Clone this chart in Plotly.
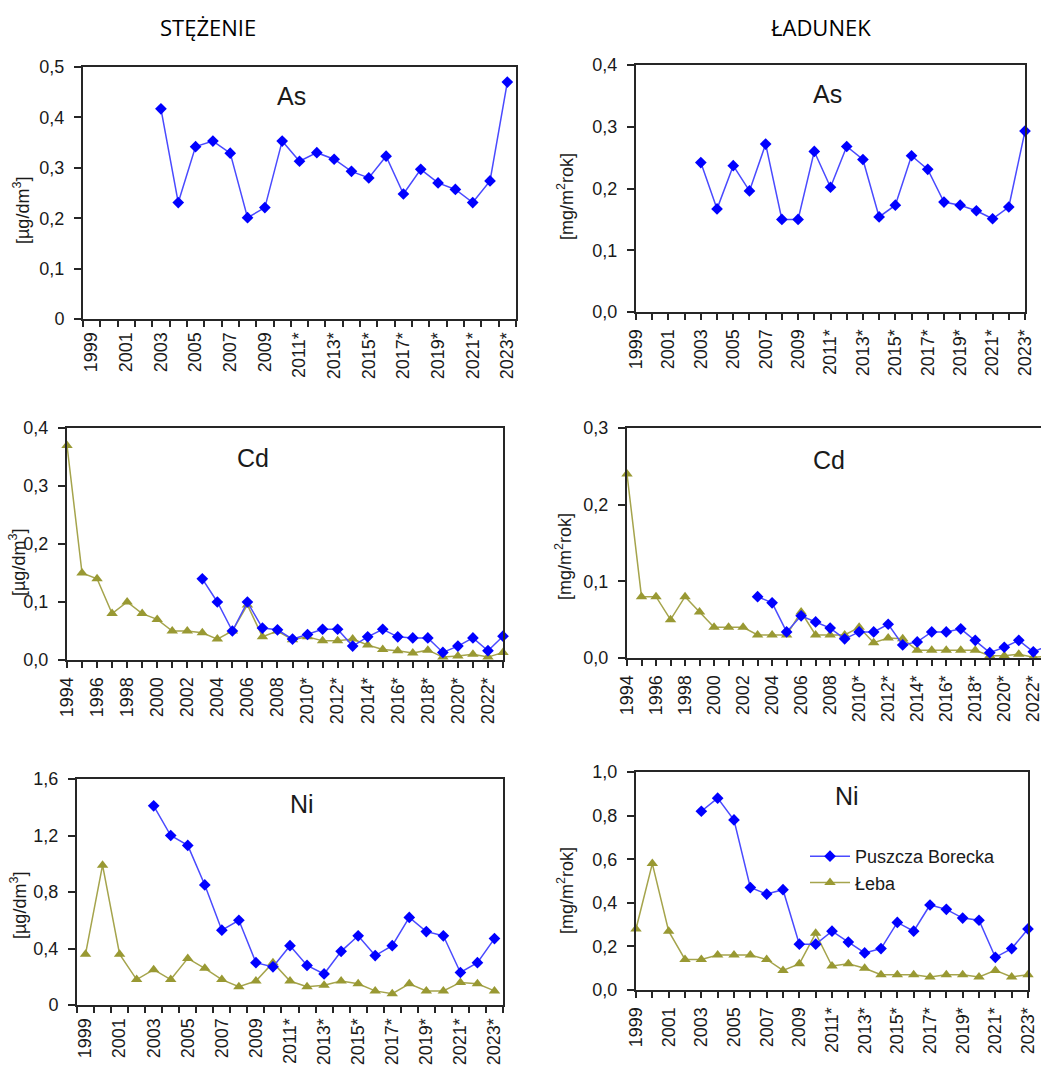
import plotly.graph_objects as go

W, H = 1041, 1066

# ---------------------------------------------------------------- categories
YEARS_1994 = ["1994", "1995", "1996", "1997", "1998", "1999", "2000", "2001",
              "2002", "2003", "2004", "2005", "2006", "2007", "2008", "2009",
              "2010*", "2011*", "2012*", "2013*", "2014*", "2015*", "2016*",
              "2017*", "2018*", "2019*", "2020*", "2021*", "2022*", "2023*"]
YEARS_1999 = YEARS_1994[5:]
YEARS_2003 = YEARS_1994[9:]

# ---------------------------------------------------------------- As
as_conc_borecka = [0.417, 0.231, 0.342, 0.353, 0.329, 0.201, 0.221, 0.353,
                   0.313, 0.330, 0.317, 0.293, 0.280, 0.323, 0.248, 0.297,
                   0.270, 0.257, 0.231, 0.274, 0.470]
as_load_borecka = [0.242, 0.167, 0.237, 0.196, 0.272, 0.150, 0.150, 0.260,
                   0.202, 0.268, 0.247, 0.154, 0.173, 0.253, 0.231, 0.178,
                   0.173, 0.164, 0.151, 0.170, 0.293]

# ---------------------------------------------------------------- Cd
cd_conc_leba = [0.370, 0.150, 0.140, 0.080, 0.100, 0.080, 0.070, 0.050,
                0.050, 0.047, 0.036, 0.050, 0.095, 0.040, 0.050, 0.035,
                0.040, 0.033, 0.033, 0.036, 0.026, 0.018, 0.016, 0.012,
                0.017, 0.005, 0.007, 0.010, 0.005, 0.013]
cd_conc_borecka = [0.140, 0.100, 0.050, 0.100, 0.055, 0.052, 0.036, 0.044,
                   0.053, 0.053, 0.024, 0.040, 0.053, 0.040, 0.038, 0.038,
                   0.013, 0.024, 0.038, 0.016, 0.041]
cd_load_leba = [0.240, 0.080, 0.080, 0.050, 0.080, 0.060, 0.040, 0.040,
                0.040, 0.030, 0.030, 0.030, 0.060, 0.030, 0.030, 0.030,
                0.040, 0.020, 0.026, 0.025, 0.010, 0.010, 0.010, 0.010,
                0.010, 0.003, 0.003, 0.005, 0.001, 0.002]
cd_load_borecka = [0.080, 0.072, 0.034, 0.055, 0.047, 0.039, 0.025, 0.034,
                   0.034, 0.044, 0.017, 0.021, 0.034, 0.034, 0.038, 0.023,
                   0.007, 0.014, 0.023, 0.008, 0.016]

# ---------------------------------------------------------------- Ni
ni_conc_leba = [0.36, 0.99, 0.36, 0.18, 0.25, 0.18, 0.33, 0.26, 0.18, 0.13,
                0.17, 0.30, 0.17, 0.13, 0.14, 0.17, 0.15, 0.10, 0.08, 0.15,
                0.10, 0.10, 0.16, 0.15, 0.10]
ni_conc_borecka = [1.41, 1.20, 1.13, 0.85, 0.53, 0.60, 0.30, 0.27, 0.42,
                   0.28, 0.22, 0.38, 0.49, 0.35, 0.42, 0.62, 0.52, 0.49,
                   0.23, 0.30, 0.47]
ni_load_leba = [0.28, 0.58, 0.27, 0.14, 0.14, 0.16, 0.16, 0.16, 0.14, 0.09,
                0.12, 0.26, 0.11, 0.12, 0.10, 0.07, 0.07, 0.07, 0.06, 0.07,
                0.07, 0.06, 0.09, 0.06, 0.07]
ni_load_borecka = [0.82, 0.88, 0.78, 0.47, 0.44, 0.46, 0.21, 0.21, 0.27,
                   0.22, 0.17, 0.19, 0.31, 0.27, 0.39, 0.37, 0.33, 0.32,
                   0.15, 0.19, 0.28]

# ---------------------------------------------------------------- y ticks
as_conc_ticks = [0, 0.1, 0.2, 0.3, 0.4, 0.5]
as_conc_labels = ["0", "0,1", "0,2", "0,3", "0,4", "0,5"]
as_load_ticks = [0, 0.1, 0.2, 0.3, 0.4]
as_load_labels = ["0,0", "0,1", "0,2", "0,3", "0,4"]
cd_conc_ticks = [0, 0.1, 0.2, 0.3, 0.4]
cd_conc_labels = ["0,0", "0,1", "0,2", "0,3", "0,4"]
cd_load_ticks = [0, 0.1, 0.2, 0.3]
cd_load_labels = ["0,0", "0,1", "0,2", "0,3"]
ni_conc_ticks = [0, 0.4, 0.8, 1.2, 1.6]
ni_conc_labels = ["0", "0,4", "0,8", "1,2", "1,6"]
ni_load_ticks = [0, 0.2, 0.4, 0.6, 0.8, 1.0]
ni_load_labels = ["0,0", "0,2", "0,4", "0,6", "0,8", "1,0"]

BORECKA = "Puszcza Borecka"
LEBA = "Łeba"
UNIT_CONC = "[µg/dm<sup>3</sup>]"
UNIT_LOAD = "[mg/m<sup>2</sup>rok]"

# ---------------------------------------------------------------- style
FONT = "Liberation Sans, Arial, sans-serif"
TXT = "#1a1a1a"
AXIS = "#262626"
BLUE_LINE, BLUE_MARK = "#4a4aff", "#0000ff"
OLIVE_LINE, OLIVE_MARK = "#a5a44c", "#999933"
TICK_FONT = 18

# panel layout: plot box in pixels (left, top, right, bottom)
panels = [
    dict(box=(83, 67, 516, 319), cats=YEARS_1999, mode="between",
         yticks=as_conc_ticks, ylabels=as_conc_labels, ymax=0.5,
         series=[(BORECKA, YEARS_2003, as_conc_borecka)],
         title="As", title_xy=(291, 96), unit=UNIT_CONC, unit_xy=(21, 211)),
    dict(box=(636, 65, 1025, 312), cats=YEARS_1999, mode="on",
         yticks=as_load_ticks, ylabels=as_load_labels, ymax=0.4,
         series=[(BORECKA, YEARS_2003, as_load_borecka)],
         title="As", title_xy=(827, 94), unit=UNIT_LOAD, unit_xy=(565, 197)),
    dict(box=(67, 428, 503, 660), cats=YEARS_1994, mode="on",
         yticks=cd_conc_ticks, ylabels=cd_conc_labels, ymax=0.4,
         series=[(LEBA, YEARS_1994, cd_conc_leba),
                 (BORECKA, YEARS_2003, cd_conc_borecka)],
         title="Cd", title_xy=(253, 458), unit=UNIT_CONC, unit_xy=(17, 563)),
    dict(box=(627, 428, W, 658), cats=YEARS_1994, mode="on", cut=True,
         yticks=cd_load_ticks, ylabels=cd_load_labels, ymax=0.3,
         series=[(LEBA, YEARS_1994, cd_load_leba),
                 (BORECKA, YEARS_2003, cd_load_borecka)],
         title="Cd", title_xy=(829, 460), unit=UNIT_LOAD, unit_xy=(563, 557)),
    dict(box=(77, 779, 503, 1005), cats=YEARS_1999, mode="between",
         yticks=ni_conc_ticks, ylabels=ni_conc_labels, ymax=1.6,
         series=[(LEBA, YEARS_1999, ni_conc_leba),
                 (BORECKA, YEARS_2003, ni_conc_borecka)],
         title="Ni", title_xy=(302, 804), unit=UNIT_CONC, unit_xy=(18, 906)),
    dict(box=(636, 772, 1028, 990), cats=YEARS_1999, mode="on",
         yticks=ni_load_ticks, ylabels=ni_load_labels, ymax=1.0,
         series=[(LEBA, YEARS_1999, ni_load_leba),
                 (BORECKA, YEARS_2003, ni_load_borecka)],
         title="Ni", title_xy=(847, 796), unit=UNIT_LOAD, unit_xy=(565, 891),
         legend=True),
]


def px(x):
    return x / W


def py(y):
    return 1 - y / H


def label(text, x, y, size, family=FONT, color=TXT, angle=0):
    return dict(text=text, x=px(x), y=py(y), xref="paper", yref="paper",
                xanchor="center", yanchor="middle", showarrow=False,
                textangle=angle, font=dict(family=family, size=size,
                                           color=color))


fig = go.Figure()
annotations = []
layout = {}

for k, p in enumerate(panels, start=1):
    xa, ya = f"x{k}", f"y{k}"
    left, top, right, bottom = p["box"]
    cats = p["cats"]
    n = len(cats)

    # x range in category-index units
    if p["mode"] == "between":
        xr = [-0.5, n - 0.5]
    elif p.get("cut"):
        # the plot area runs on past the right page edge
        step = (1033.3 - left) / (n - 2)
        xr = [0, (right - left) / step]
    else:
        xr = [0, n - 1]

    for name, yrs, vals in p["series"]:
        is_b = name == BORECKA
        xs = [cats.index(y) for y in yrs]
        line = dict(color=BLUE_LINE if is_b else OLIVE_LINE, width=1.5)
        marker = dict(symbol="diamond" if is_b else "triangle-up",
                      size=9 if is_b else 10,
                      color=BLUE_MARK if is_b else OLIVE_MARK,
                      line=dict(width=0))
        common = dict(name=name, xaxis=xa, yaxis=ya, cliponaxis=False,
                      showlegend=bool(p.get("legend")),
                      legendrank=1 if is_b else 2)
        if p.get("cut"):
            # line runs to the edge; markers only where the axis reaches
            fig.add_trace(go.Scatter(x=xs, y=vals, mode="lines", line=line,
                                     **common))
            seen = [(x, v) for x, v in zip(xs, vals) if x <= xr[1]]
            fig.add_trace(go.Scatter(x=[s[0] for s in seen],
                                     y=[s[1] for s in seen], mode="markers",
                                     marker=marker, **common))
        else:
            fig.add_trace(go.Scatter(x=xs, y=vals, mode="lines+markers",
                                     line=line, marker=marker, **common))

    xcfg = dict(domain=[px(left), px(right)], anchor=ya, range=xr,
                automargin=False, showgrid=False, zeroline=False,
                showline=True, linecolor=AXIS, linewidth=2, mirror=True,
                tickangle=-90, tickmode="array", ticklabeloverflow="allow",
                tickfont=dict(family=FONT, size=TICK_FONT, color=TXT))
    if p["mode"] == "between":
        idx = list(range(0, n, 2))
        xcfg.update(tickvals=idx, ticktext=[cats[i] for i in idx], ticks="",
                    ticklabelstandoff=4,
                    minor=dict(tickmode="array",
                               tickvals=[i - 0.5 for i in range(n + 1)],
                               ticks="outside", ticklen=6, tickwidth=1.5,
                               tickcolor=AXIS))
    else:
        xcfg.update(tickvals=list(range(n)),
                    ticktext=[c if i % 2 == 0 else "" for i, c in enumerate(cats)],
                    ticks="outside", ticklen=6, tickwidth=1.5, tickcolor=AXIS,
                    ticklabelstandoff=2)
    layout[f"xaxis{k}"] = xcfg

    layout[f"yaxis{k}"] = dict(
        domain=[py(bottom), py(top)], anchor=xa, range=[0, p["ymax"]],
        automargin=False, showgrid=False, zeroline=False, showline=True,
        linecolor=AXIS, linewidth=2, mirror=not p.get("cut"),
        tickmode="array", tickvals=p["yticks"], ticktext=p["ylabels"],
        ticks="outside", ticklen=7, tickwidth=1.5, tickcolor=AXIS,
        ticklabelstandoff=6,
        tickfont=dict(family=FONT, size=TICK_FONT, color=TXT))

    annotations.append(label(p["title"], *p["title_xy"], 25))
    annotations.append(label(p["unit"], *p["unit_xy"], 18, angle=-90))

# column headings
annotations.append(label("STĘŻENIE", 208, 27, 22, "Open Sans, sans-serif",
                         "#000000"))
annotations.append(label("ŁADUNEK", 821, 27, 22, "Open Sans, sans-serif",
                         "#000000"))

fig.update_layout(
    width=W, height=H, margin=dict(l=0, r=0, t=0, b=0, autoexpand=False),
    paper_bgcolor="white", plot_bgcolor="white",
    annotations=annotations,
    legend=dict(x=px(805), y=py(838), xanchor="left", yanchor="top",
                bgcolor="rgba(0,0,0,0)", font=dict(family=FONT, size=18,
                                                  color=TXT),
                tracegroupgap=0, itemwidth=40),
    **layout,
)

fig.write_html("out.html")
